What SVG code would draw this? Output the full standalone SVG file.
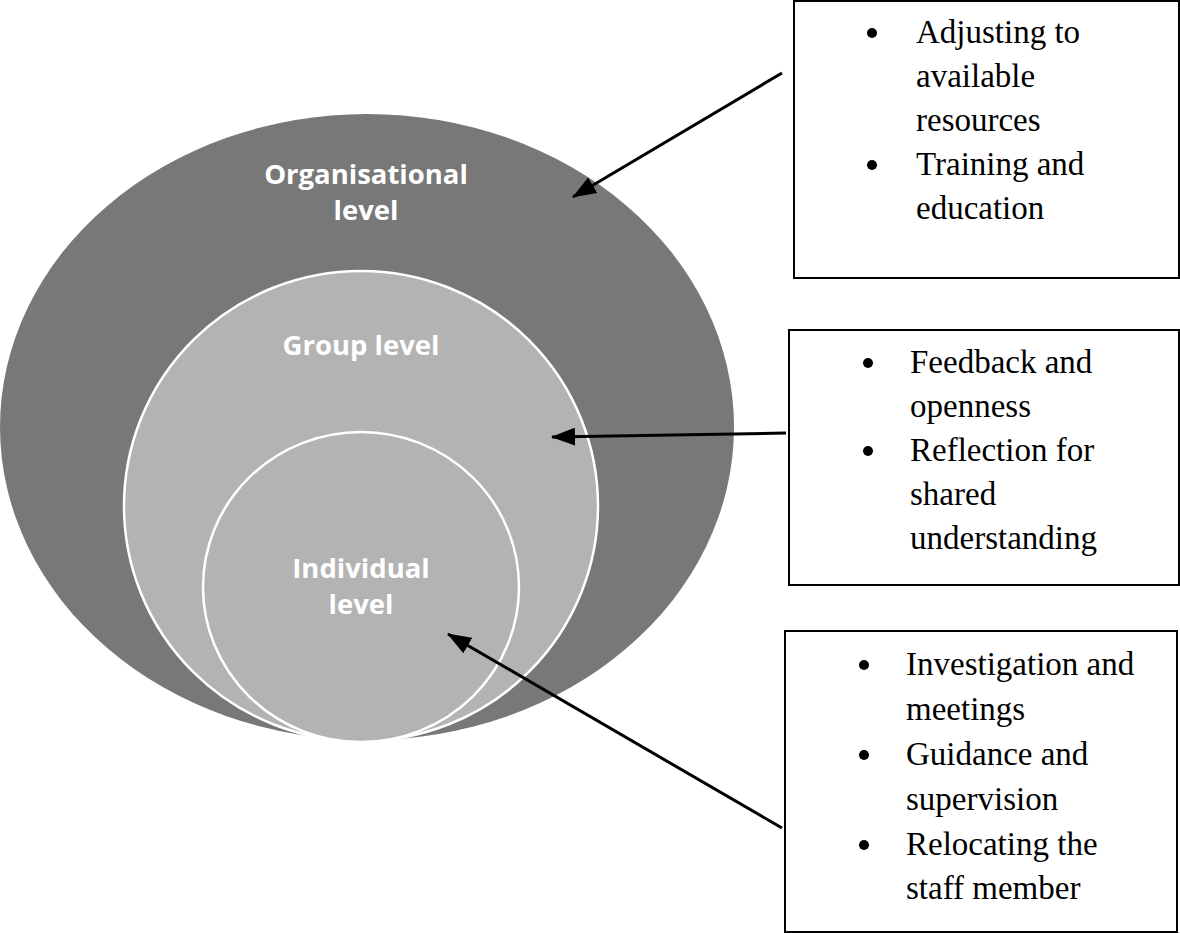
<svg xmlns="http://www.w3.org/2000/svg" width="1180" height="934" viewBox="0 0 1180 934">
<defs>
<marker id="ah" markerUnits="userSpaceOnUse" markerWidth="24" markerHeight="18" viewBox="0 0 24 18" refX="23" refY="9" orient="auto">
<path d="M0,0 L24,9 L0,18 Z" fill="#000"/>
</marker>
</defs>
<style>
.lvl{font-family:"Open Sans","Liberation Sans",sans-serif;font-weight:bold;font-size:27.5px;fill:#fff;text-anchor:middle}
.box{fill:#fff;stroke:#000;stroke-width:2}
.txt{font-family:"Liberation Serif","Times New Roman",serif;font-size:33px;fill:#000}
.conn{stroke:#000;stroke-width:3;fill:none;marker-end:url(#ah)}
</style>
<rect width="1180" height="934" fill="#fff"/>
<g id="organisational">
<ellipse cx="367" cy="427" rx="367" ry="313" fill="#787878"/>
<text class="lvl" x="366" y="184">Organisational</text>
<text class="lvl" x="366" y="220">level</text>
</g>
<g id="group">
<ellipse cx="361" cy="506" rx="237" ry="235" fill="#b3b3b3" stroke="#fff" stroke-width="2.5"/>
<text class="lvl" x="361" y="355">Group level</text>
</g>
<g id="individual">
<ellipse cx="361" cy="587" rx="158" ry="155" fill="#b3b3b3" stroke="#fff" stroke-width="2.5"/>
<text class="lvl" x="361" y="578">Individual</text>
<text class="lvl" x="361" y="614">level</text>
</g>
<g id="box-organisational">
<rect class="box" x="794" y="1" width="385" height="277"/>
<circle cx="872" cy="33" r="5"/>
<circle cx="872" cy="165" r="5"/>
<text class="txt" x="916" y="43">Adjusting to</text>
<text class="txt" x="916" y="87">available</text>
<text class="txt" x="916" y="131">resources</text>
<text class="txt" x="916" y="175">Training and</text>
<text class="txt" x="916" y="219">education</text>
</g>
<g id="box-group">
<rect class="box" x="789" y="330" width="390" height="255"/>
<circle cx="868" cy="363" r="5"/>
<circle cx="868" cy="451" r="5"/>
<text class="txt" x="910" y="373">Feedback and</text>
<text class="txt" x="910" y="417">openness</text>
<text class="txt" x="910" y="461">Reflection for</text>
<text class="txt" x="910" y="505">shared</text>
<text class="txt" x="910" y="549">understanding</text>
</g>
<g id="box-individual">
<rect class="box" x="785" y="631" width="392" height="301"/>
<circle cx="864" cy="665" r="5"/>
<circle cx="864" cy="755" r="5"/>
<circle cx="864" cy="845" r="5"/>
<text class="txt" x="906" y="675">Investigation and</text>
<text class="txt" x="906" y="720">meetings</text>
<text class="txt" x="906" y="765">Guidance and</text>
<text class="txt" x="906" y="810">supervision</text>
<text class="txt" x="906" y="855">Relocating the</text>
<text class="txt" x="906" y="899">staff member</text>
</g>
<g id="connectors">
<line class="conn" x1="782" y1="73" x2="573" y2="197"/>
<line class="conn" x1="786" y1="433" x2="552" y2="437"/>
<line class="conn" x1="782" y1="828" x2="448" y2="634"/>
</g>
</svg>
